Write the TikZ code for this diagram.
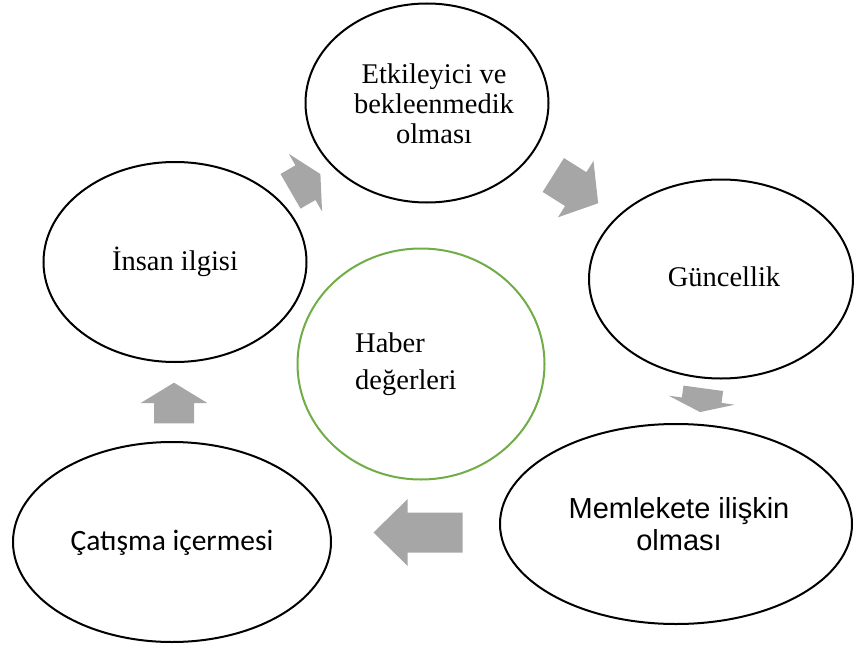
\documentclass[tikz,border=0pt]{standalone}
\usepackage{fontspec}
\setmainfont{Liberation Serif}
\newfontfamily\arialfont{Liberation Sans}
\newfontfamily\carlitofont{Carlito}
\usetikzlibrary{shapes.geometric}
\definecolor{arrowgray}{HTML}{A6A6A6}
\definecolor{cyclegreen}{HTML}{70AD47}
\begin{document}
\begin{tikzpicture}[x=1pt,y=-1pt,
  item/.style={ellipse, draw=black, line width=2pt, inner sep=0pt},
  hub/.style={ellipse, draw=cyclegreen, line width=2pt, inner sep=0pt},
  lbl/.style={inner sep=0pt, align=center, font=\fontsize{28.5}{30}\selectfont},
  pics/barrow/.style 2 args={code={
    \fill[arrowgray] (0,-20) -- (#1-#2,-20) -- (#1-#2,-33.3) -- (#1,0)
      -- (#1-#2,33.3) -- (#1-#2,20) -- (0,20) -- cycle;}}
]
\useasboundingbox (0,0) rectangle (854,650);

% ellipses
\node[item, minimum width=243pt, minimum height=199pt] (etk) at (427,103) {};
\node[item, minimum width=263pt, minimum height=200pt] (ins) at (175,262) {};
\node[item, minimum width=264pt, minimum height=199pt] (gun) at (721,279) {};
\node[hub,  minimum width=247pt, minimum height=231pt] (hab) at (421,364) {};
\node[item, minimum width=318pt, minimum height=200pt] (cat) at (172,542) {};
\node[item, minimum width=352pt, minimum height=200pt] (mem) at (676,524) {};

% texts
\node[lbl] (tetk) at (434,104) {Etkileyici ve\\bekleenmedik\\olması};
\node[lbl] (tins) at (175,262) {İnsan ilgisi};
\node[lbl] (tgun) at (724,277) {Güncellik};
\node[lbl, anchor=west, align=left, font=\fontsize{28.5}{37}\selectfont] (thab) at (355,364) {Haber\\değerleri};
\node[lbl, font=\carlitofont\fontsize{29.5}{30}\selectfont] (tcat) at (172,543) {Çatışma içermesi};
\node[lbl, font=\arialfont\fontsize{29}{32}\selectfont] (tmem) at (679,524) {Memlekete ilişkin\\olması};

% block arrows of the cycle
\pic[rotate=30]    at (290.5,191.3) {barrow={34.5}{17.25}};
\pic[rotate=-32.2] at (553.3,175)   {barrow={53}{26.5}};
\pic[rotate=-97.8] at (703.3,388.3) {barrow={24}{12}};
\pic[rotate=180]   at (462.5,532.5) {barrow={89}{34}};
\pic[rotate=90]    at (174,423.3)   {barrow={40.6}{20.3}};
\end{tikzpicture}
\end{document}
